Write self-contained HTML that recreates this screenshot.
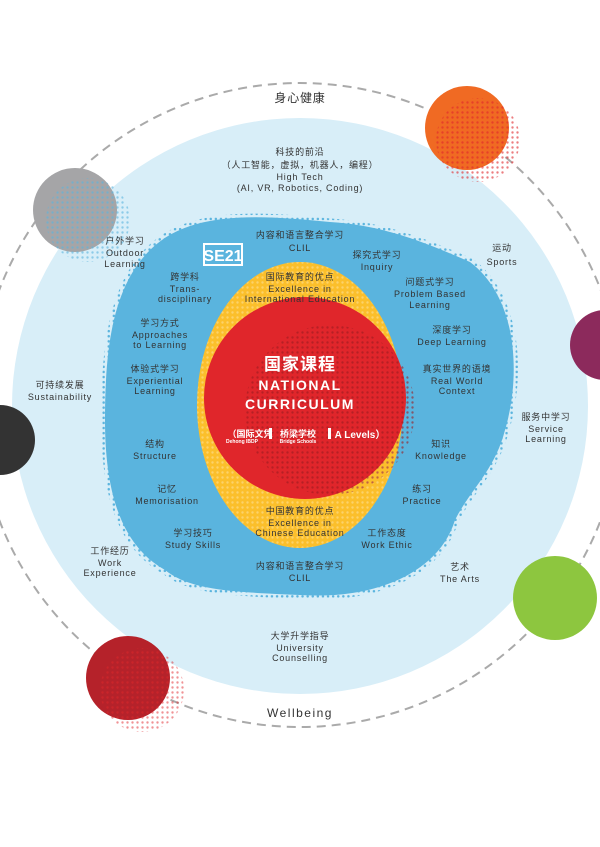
<!DOCTYPE html>
<html><head><meta charset="utf-8"><style>
body{margin:0;width:600px;height:842px;background:#fff;overflow:hidden}
svg text{font-family:"Liberation Sans","Noto Sans CJK SC",sans-serif;fill:#333;text-anchor:middle;font-size:9px;letter-spacing:0.8px}
</style></head><body>
<svg width="600" height="842" viewBox="0 0 600 842">
<defs>
<pattern id="dw" width="5" height="5" patternUnits="userSpaceOnUse"><circle cx="2.5" cy="2.5" r="1.2" fill="#fff" opacity="0.6"/></pattern>
<pattern id="db" width="5" height="5" patternUnits="userSpaceOnUse"><circle cx="2.5" cy="2.5" r="1.2" fill="#5ab4de"/></pattern>
<pattern id="dr" width="5" height="5" patternUnits="userSpaceOnUse"><circle cx="2.5" cy="2.5" r="1.2" fill="#e0262b"/></pattern>
<pattern id="dk" width="5" height="5" patternUnits="userSpaceOnUse"><circle cx="2.5" cy="2.5" r="1.2" fill="#9b1b1f" opacity="0.6"/></pattern>
</defs>
<circle cx="300" cy="405" r="322" fill="none" stroke="#aaa" stroke-width="2" stroke-dasharray="9,6"/>
<circle cx="300" cy="406" r="288" fill="#d8eef8"/>
<path d="M150,250 C190,210 260,215 330,222 C380,225 420,240 470,262 C520,300 520,380 505,430 C495,470 470,490 455,520 C440,570 380,600 300,595 C230,592 190,590 165,570 C120,545 105,490 105,420 C105,340 115,285 150,250Z" fill="url(#db)" transform="translate(-6,-8) scale(1.02)"/>
<path d="M150,250 C190,210 260,215 330,222 C380,225 420,240 470,262 C520,300 520,380 505,430 C495,470 470,490 455,520 C440,570 380,600 300,595 C230,592 190,590 165,570 C120,545 105,490 105,420 C105,340 115,285 150,250Z" fill="#5ab4de"/>
<ellipse cx="300" cy="405" rx="103" ry="143" fill="#fbbf2b"/>
<ellipse cx="300" cy="405" rx="103" ry="143" fill="url(#dw)" opacity="0.5"/>
<circle cx="305" cy="398" r="101" fill="#e0262b"/>
<circle cx="330" cy="410" r="85" fill="url(#dk)"/>
<circle cx="467" cy="128" r="42" fill="#f06a23"/>
<circle cx="478" cy="140" r="42" fill="url(#dr)" opacity="0.6"/>
<circle cx="75" cy="210" r="42" fill="#a5a5a7"/>
<circle cx="88" cy="220" r="42" fill="url(#db)" opacity="0.6"/>
<circle cx="605" cy="345" r="35" fill="#8c2a5c"/>
<circle cx="0" cy="440" r="35" fill="#333"/>
<circle cx="555" cy="598" r="42" fill="#8dc63f"/>
<circle cx="128" cy="678" r="42" fill="#b5222a"/>
<circle cx="142" cy="690" r="42" fill="url(#dr)" opacity="0.5"/>
<rect x="204" y="244" width="38" height="21" fill="#5ab4de" stroke="#fff" stroke-width="2"/>
<text x="223" y="261" style="fill:#fff;font-size:16px;font-weight:bold;letter-spacing:0">SE21</text>
<text x="300" y="102" style="font-size:12px">身心健康</text>
<text x="300" y="717" style="font-size:12px;letter-spacing:1.5px">Wellbeing</text>
<text x="300" y="155">科技的前沿</text>
<text x="300" y="168">（人工智能，虚拟，机器人，编程）</text>
<text x="300" y="180">High Tech</text>
<text x="300" y="191">(AI, VR, Robotics, Coding)</text>
<text x="125" y="244">户外学习</text><text x="125" y="256">Outdoor</text><text x="125" y="267">Learning</text>
<text x="502" y="251">运动</text><text x="502" y="265">Sports</text>
<text x="300" y="238">内容和语言整合学习</text><text x="300" y="251">CLIL</text>
<text x="377" y="258">探究式学习</text><text x="377" y="270">Inquiry</text>
<text x="430" y="285">问题式学习</text><text x="430" y="297">Problem Based</text><text x="430" y="308">Learning</text>
<text x="185" y="280">跨学科</text><text x="185" y="292">Trans-</text><text x="185" y="302">disciplinary</text>
<text x="300" y="280">国际教育的优点</text><text x="300" y="292">Excellence in</text><text x="300" y="302">International Education</text>
<text x="160" y="326">学习方式</text><text x="160" y="338">Approaches</text><text x="160" y="348">to Learning</text>
<text x="452" y="333">深度学习</text><text x="452" y="345">Deep Learning</text>
<text x="155" y="372">体验式学习</text><text x="155" y="384">Experiential</text><text x="155" y="394">Learning</text>
<text x="457" y="372">真实世界的语境</text><text x="457" y="384">Real World</text><text x="457" y="394">Context</text>
<text x="60" y="388">可持续发展</text><text x="60" y="400">Sustainability</text>
<text x="546" y="420">服务中学习</text><text x="546" y="432">Service</text><text x="546" y="442">Learning</text>
<text x="155" y="447">结构</text><text x="155" y="459">Structure</text>
<text x="441" y="447">知识</text><text x="441" y="459">Knowledge</text>
<text x="167" y="492">记忆</text><text x="167" y="504">Memorisation</text>
<text x="422" y="492">练习</text><text x="422" y="504">Practice</text>
<text x="300" y="514">中国教育的优点</text><text x="300" y="526">Excellence in</text><text x="300" y="536">Chinese Education</text>
<text x="193" y="536">学习技巧</text><text x="193" y="548">Study Skills</text>
<text x="387" y="536">工作态度</text><text x="387" y="548">Work Ethic</text>
<text x="110" y="554">工作经历</text><text x="110" y="566">Work</text><text x="110" y="576">Experience</text>
<text x="300" y="569">内容和语言整合学习</text><text x="300" y="581">CLIL</text>
<text x="460" y="570">艺术</text><text x="460" y="582">The Arts</text>
<text x="300" y="639">大学升学指导</text><text x="300" y="651">University</text><text x="300" y="661">Counselling</text>
<text x="300" y="370" style="fill:#fff;font-size:17px;font-weight:bold;letter-spacing:1px">国家课程</text>
<text x="300" y="390" style="fill:#fff;font-size:14px;font-weight:bold;letter-spacing:1.5px">NATIONAL</text>
<text x="300" y="409" style="fill:#fff;font-size:14px;font-weight:bold;letter-spacing:1.5px">CURRICULUM</text>
<text x="250" y="437" style="fill:#fff;font-size:9px;font-weight:bold;letter-spacing:0">（国际文凭</text>
<text x="242" y="443" style="fill:#fff;font-size:5px;font-weight:bold;letter-spacing:0">Dehong IBDP</text>
<rect x="269" y="428" width="3" height="11" fill="#fff"/>
<text x="298" y="437" style="fill:#fff;font-size:9px;font-weight:bold;letter-spacing:0">桥梁学校</text>
<text x="298" y="443" style="fill:#fff;font-size:5px;font-weight:bold;letter-spacing:0">Bridge Schools</text>
<rect x="328" y="428" width="3" height="11" fill="#fff"/>
<text x="360" y="438" style="fill:#fff;font-size:10px;font-weight:bold;letter-spacing:0">A Levels）</text>
</svg>
</body></html>
